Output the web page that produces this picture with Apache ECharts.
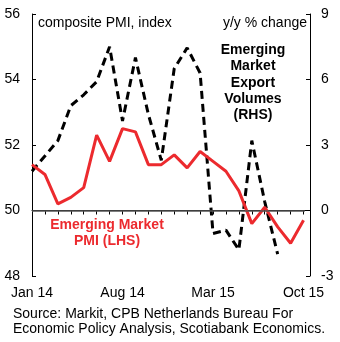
<!DOCTYPE html>
<html>
<head>
<meta charset="utf-8">
<script src="https://cdn.jsdelivr.net/npm/echarts@6/dist/echarts.min.js"></script>
<style>
  html, body { margin: 0; padding: 0; background: #fff; }
  #chart { width: 340px; height: 342px; }
</style>
</head>
<body>
<div id="chart"></div>
<script>
// Months from Jan 2014 through Oct 2015 (index 0 = Jan 14)
const months = ['Jan 14','Feb 14','Mar 14','Apr 14','May 14','Jun 14','Jul 14','Aug 14','Sep 14','Oct 14','Nov 14','Dec 14',
                'Jan 15','Feb 15','Mar 15','Apr 15','May 15','Jun 15','Jul 15','Aug 15','Sep 15','Oct 15'];
const tickLabels = { 0: 'Jan 14', 7: 'Aug 14', 14: 'Mar 15', 21: 'Oct 15' };

// Emerging Market composite PMI, index (LHS)
const pmi = [51.4, 51.1, 50.2, 50.4, 50.7, 52.3, 51.5, 52.5, 52.4, 51.4, 51.4, 51.7,
             51.3, 51.8, 51.5, 51.2, 50.6, 49.6, 50.1, 49.5, 49.0, 49.7];

// Emerging Market export volumes, y/y % change (RHS)
const exportVol = [1.8, 2.5, 3.2, 4.8, 5.3, 5.9, 7.5, 4.1, 7.0, 4.4, 2.3, 6.5,
                   7.45, 6.3, -1.05, -0.9, -1.8, 3.2, 0.4, -2.0];

const leftTicks = { min: 48, max: 56, step: 2 };
const rightTicks = { min: -3, max: 9, step: 3 };

const FONT = "'Liberation Sans', Arial, sans-serif";
const RED = '#EC2A2E';

const chart = echarts.init(document.getElementById('chart'), null, { renderer: 'canvas' });

const toPairs = arr => arr.map((v, i) => [i, v]);

chart.setOption({
  animation: false,
  backgroundColor: '#fff',
  textStyle: { fontFamily: FONT },
  grid: { left: 32, right: 30, top: 14, bottom: 66, containLabel: false },
  xAxis: {
    type: 'value',
    min: 0, max: 21.5, interval: 1,
    axisLine: { show: true, lineStyle: { color: '#000', width: 1 } },
    axisTick: { show: true, length: 4, lineStyle: { color: '#000', width: 1 } },
    splitLine: { show: false },
    axisLabel: {
      margin: 10,
      color: '#000', fontSize: 14, fontFamily: FONT,
      showMaxLabel: false,
      formatter: v => tickLabels[v] || ''
    }
  },
  yAxis: [
    {
      type: 'value', position: 'left',
      min: leftTicks.min, max: leftTicks.max, interval: leftTicks.step,
      axisLine: { show: true, lineStyle: { color: '#000', width: 1 } },
      axisTick: { show: true, inside: true, length: 4, lineStyle: { color: '#000' } },
      splitLine: { show: false },
      axisLabel: { margin: 12, color: '#000', fontSize: 14, fontFamily: FONT }
    },
    {
      type: 'value', position: 'right',
      min: rightTicks.min, max: rightTicks.max, interval: rightTicks.step,
      axisLine: { show: true, lineStyle: { color: '#000', width: 1 } },
      axisTick: { show: true, inside: true, length: 4, lineStyle: { color: '#000' } },
      splitLine: { show: false },
      axisLabel: { margin: 11, color: '#000', fontSize: 14, fontFamily: FONT }
    }
  ],
  series: [
    {
      name: 'Emerging Market Export Volumes (RHS)',
      type: 'line',
      yAxisIndex: 1,
      data: toPairs(exportVol),
      symbol: 'none',
      z: 2,
      lineStyle: { color: '#000', width: 3, type: [8, 5] }
    },
    {
      name: 'Emerging Market PMI (LHS)',
      type: 'line',
      yAxisIndex: 0,
      data: toPairs(pmi),
      symbol: 'none',
      z: 3,
      lineStyle: { color: RED, width: 3 },
      markLine: {
        silent: true,
        symbol: 'none',
        label: { show: false },
        lineStyle: { color: '#555', width: 1.5, type: 'solid' },
        data: [[{ coord: [0, 50] }, { coord: [21.1, 50] }]]
      }
    }
  ],
  graphic: [
    {
      type: 'text', left: 38, top: 16,
      style: { text: 'composite PMI, index', font: '14px ' + FONT, fill: '#000' }
    },
    {
      type: 'text', right: 33, top: 16,
      style: { text: 'y/y % change', font: '14px ' + FONT, fill: '#000' }
    },
    {
      type: 'text', x: 253, y: 42,
      style: {
        text: 'Emerging\nMarket\nExport\nVolumes\n(RHS)',
        font: 'bold 14px ' + FONT, fill: '#000',
        align: 'center', lineHeight: 16.3
      }
    },
    {
      type: 'text', x: 107, y: 217,
      style: {
        text: 'Emerging Market\nPMI (LHS)',
        font: 'bold 14px ' + FONT, fill: RED,
        align: 'center', lineHeight: 16
      }
    },
    {
      type: 'text', left: 13, top: 306,
      style: {
        text: 'Source: Markit, CPB Netherlands Bureau For\nEconomic Policy Analysis, Scotiabank Economics.',
        font: '14px ' + FONT, fill: '#000', lineHeight: 15.5
      }
    }
  ]
});
</script>
</body>
</html>
